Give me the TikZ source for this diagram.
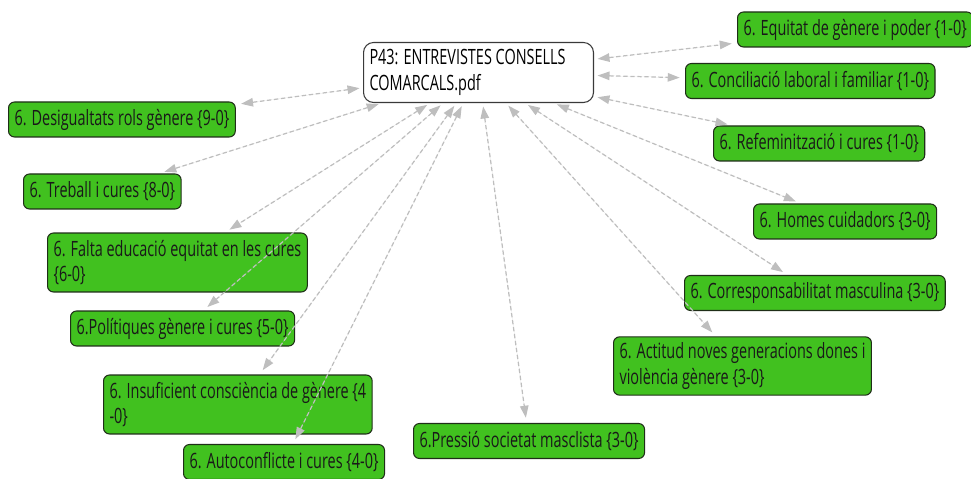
\documentclass[tikz,border=0pt]{standalone}
\usepackage{fontspec}
\setmainfont[FakeStretch=0.685]{Open Sans}
\usepackage{tikz}
\usetikzlibrary{arrows.meta}
\definecolor{codefill}{HTML}{41C11F}
\definecolor{codeline}{HTML}{1F2E18}
\definecolor{docline}{HTML}{3A3A3A}
\definecolor{linkgray}{HTML}{BEBEBE}

\begin{document}
\begin{tikzpicture}[
  x=0.02cm, y=-0.02cm,
  code/.style={draw=codeline, fill=codefill, rounded corners=1.2mm, line width=0.6pt,
    anchor=west, align=flush left, inner xsep=1.2mm, minimum height=0.7cm,
    font=\fontsize{12}{14.5}\selectfont, text=black!90},
  doc/.style={draw=docline, fill=white, rounded corners=2mm, line width=0.6pt,
    anchor=west, align=flush left, inner xsep=1.2mm, minimum height=1.2cm, text width=4.36cm,
    font=\fontsize{12}{14.5}\selectfont},
  link/.style={{Triangle[length=2.4mm,width=1.7mm]}-{Triangle[length=2.4mm,width=1.7mm]},
    draw=linkgray, fill=linkgray, line width=0.7pt, dash pattern=on 2.5pt off 1.5pt,
    shorten <=2pt, shorten >=3pt}
]
\useasboundingbox (0,0) rectangle (971,479);

% document node
\node[doc] (p43) at (363,72.5) {P43: ENTREVISTES CONSELLS\\COMARCALS.pdf};

% codes, left side
\node[code] (desig) at (8,119.5) {6. Desigualtats rols gènere \{9-0\}};
\node[code] (treball) at (23,191.5) {6. Treball i cures \{8-0\}};
\node[code, minimum height=1.18cm] (falta) at (47,262.5) {6. Falta educació equitat en les cures\\\{6-0\}};
\node[code] (politiques) at (70,328.5) {6.Polítiques gènere i cures \{5-0\}};
\node[code, minimum height=1.18cm] (insuf) at (103,404.5) {6. Insuficient consciència de gènere \{4\\-0\}};
\node[code] (autoconf) at (183,462) {6. Autoconflicte i cures \{4-0\}};
\node[code] (pressio) at (413,441) {6.Pressió societat masclista \{3-0\}};

% codes, right side
\node[code] (equitat) at (737,29.5) {6. Equitat de gènere i poder \{1-0\}};
\node[code] (concil) at (685,81) {6. Conciliació laboral i familiar \{1-0\}};
\node[code] (refem) at (713,143.5) {6. Refeminització i cures \{1-0\}};
\node[code] (homes) at (753,221.5) {6. Homes cuidadors \{3-0\}};
\node[code] (corresp) at (684,293) {6. Corresponsabilitat masculina \{3-0\}};
\node[code, minimum height=1.16cm] (actitud) at (613,366) {6. Actitud noves generacions dones i\\violència gènere \{3-0\}};

% links
\foreach \c in {desig,treball,falta,politiques,insuf,autoconf,pressio,
                equitat,concil,refem,homes,corresp,actitud}
  \draw[link] (p43) -- (\c);
\end{tikzpicture}
\end{document}
